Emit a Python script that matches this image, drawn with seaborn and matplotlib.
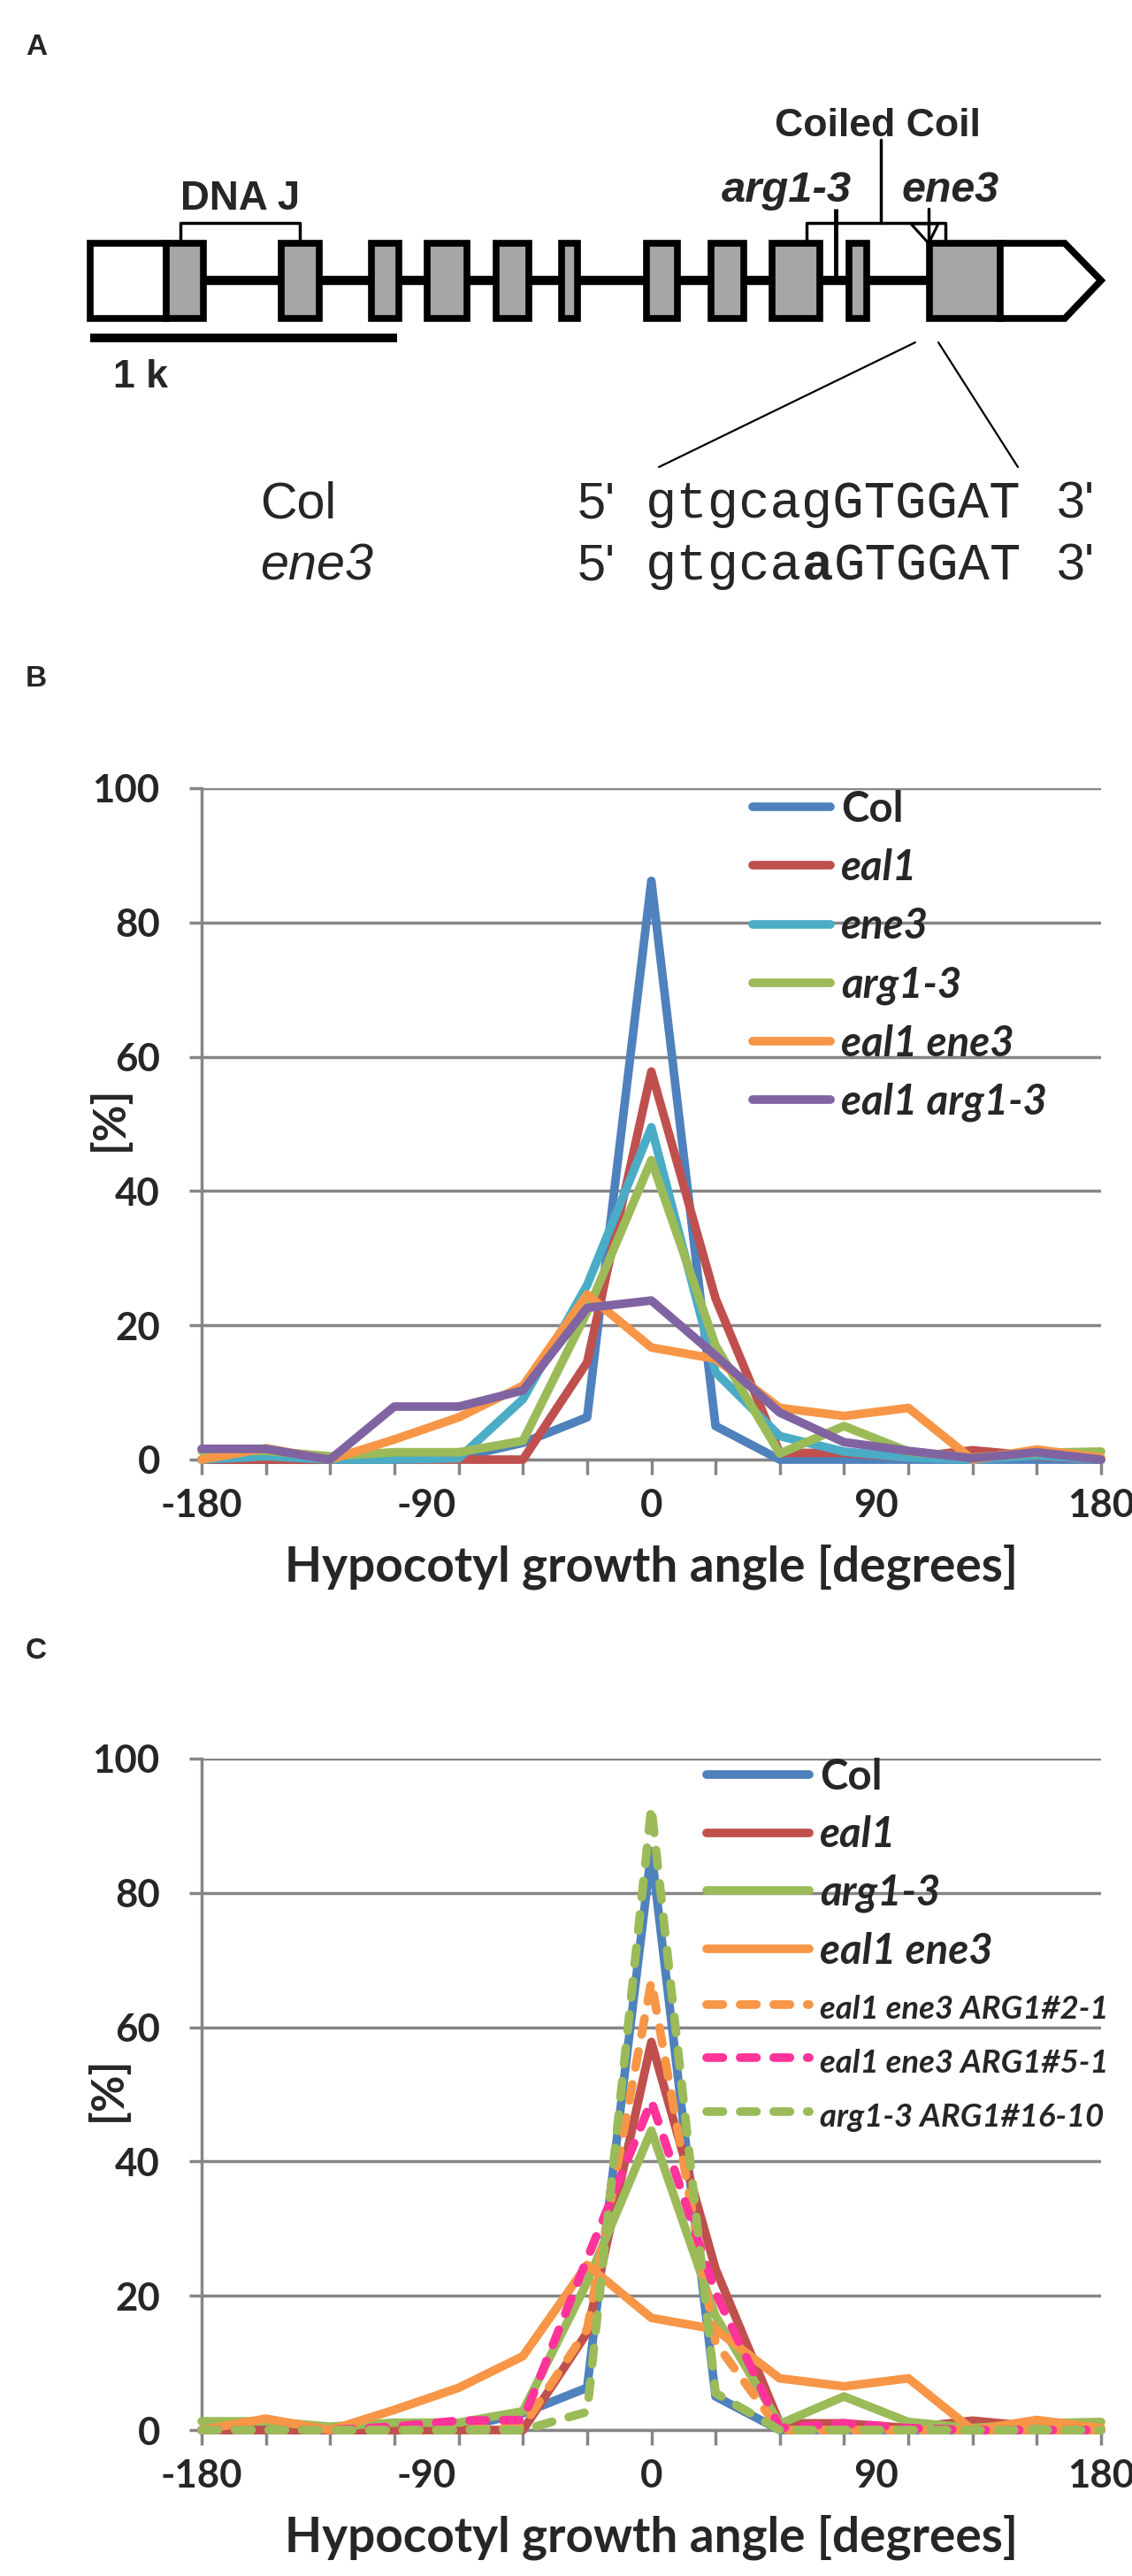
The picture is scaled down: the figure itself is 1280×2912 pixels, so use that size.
import matplotlib
matplotlib.use("Agg")
import matplotlib.pyplot as plt
import pandas as pd
import seaborn as sns
from matplotlib.patches import Rectangle, Polygon

# ---------------- data ----------------
angles = [-180, -154.3, -128.6, -102.9, -77.1, -51.4, -25.7, 0,
          25.7, 51.4, 77.1, 102.9, 128.6, 154.3, 180]
xtick_values = [-180, -90, 0, 90, 180]
xtick_labels = ["-180", "-90", "0", "90", "180"]
ytick_values = [0, 20, 40, 60, 80, 100]

col_pct      = [0, 0, 0, 0, 0.3, 2.5, 6.3, 86.2, 5.0, 0, 0, 0, 0, 0, 0]
eal1_pct     = [0, 0, 0, 0, 0, 0, 14.5, 57.8, 24.0, 1.0, 1.0, 0.3, 1.4, 0.5, 0]
ene3_pct     = [0, 0.5, 0, 0, 0.2, 9.0, 26.0, 49.5, 13.0, 3.5, 1.2, 0.3, 0, 0.6, 0]
arg13_pct    = [1.3, 1.3, 0.5, 1.1, 1.1, 2.8, 22.0, 44.6, 17.0, 0.9, 5.0, 1.2, 0.3, 1.0, 1.2]
eal1ene3_pct = [0, 1.7, 0, 3.0, 6.3, 11.0, 24.6, 16.7, 15.0, 7.7, 6.5, 7.7, 0, 1.5, 0.3]
eal1arg_pct  = [1.6, 1.6, 0, 7.9, 7.9, 10.3, 22.6, 23.7, 15.5, 7.0, 2.6, 1.3, 0.2, 1.1, 0]
arg1_21_pct  = [0, 0, 0, 0, 0, 0.5, 15.0, 66.8, 13.0, 0, 0, 0, 0, 0, 0]
arg1_51_pct  = [0, 0, 0, 0.5, 1.4, 1.5, 25.5, 49.0, 20.5, 0.3, 1.0, 0.3, 0, 0, 0]
arg1_1610_pct = [0, 0, 0, 0, 0, 0, 2.7, 92.8, 5.5, 0, 0, 0, 0, 0, 0]

names_b = ["Col", "eal1", "ene3", "arg1-3", "eal1 ene3", "eal1 arg1-3"]
series_b = [col_pct, eal1_pct, ene3_pct, arg13_pct, eal1ene3_pct, eal1arg_pct]
names_c = ["Col", "eal1", "arg1-3", "eal1 ene3", "eal1 ene3 ARG1#2-1",
           "eal1 ene3 ARG1#5-1", "arg1-3 ARG1#16-10"]
series_c = [col_pct, eal1_pct, arg13_pct, eal1ene3_pct, arg1_21_pct, arg1_51_pct, arg1_1610_pct]
dashed_c = [False, False, False, False, True, True, True]

# gene model (drawing units)
utr5 = [102, 188]
exon_starts = [188, 318, 420, 483, 561, 635, 731, 804, 873, 960, 1051]
exon_ends = [230, 361, 451, 528, 598, 653, 766, 841, 927, 980, 1131]
utr3 = [1131, 1204, 1245]
seq_col = "gtgcagGTGGAT"
seq_ene3 = ["gtgca", "a", "GTGGAT"]

BLUE, RED, AQUA, GREEN = "#4F81BD", "#C0504D", "#4BACC6", "#9BBB59"
ORANGE, PURPLE, PINK = "#F79646", "#8064A2", "#FF3399"
colors_b = [BLUE, RED, AQUA, GREEN, ORANGE, PURPLE]
colors_c = [BLUE, RED, GREEN, ORANGE, ORANGE, PINK, GREEN]
GRID = "#868686"
LW = 7.0
DASH = (1.9, 2.0)

# ---------------- setup ----------------
sns.set_style("white")
FAM = ["Lato", "DejaVu Sans"]
ARIAL = ["Liberation Sans", "DejaVu Sans"]
MONO = ["Liberation Mono", "DejaVu Sans Mono"]
plt.rcParams["font.family"] = FAM
plt.rcParams["font.weight"] = "bold"

W, H = 1280, 2912
fig = plt.figure(figsize=(12.8, 29.12), dpi=100)
renderer = fig.canvas.get_renderer()


def fit(text, target, family=FAM, weight="bold", style="normal", base=30.0):
    t = fig.text(0, 0, text, fontsize=base, family=family, fontweight=weight, fontstyle=style)
    w = t.get_window_extent(renderer).width
    t.remove()
    return base * target / w


def ftext(x, y, s, **kw):
    return fig.text(x / W, 1 - y / H, s, **kw)


def fbox(l, t, r, b):
    return [l / W, 1 - b / H, (r - l) / W, (b - t) / H]


TS = fit("100", 76)
XL = fit("Hypocotyl growth angle [degrees]", 829)
PS = fit("[%]", 73)
LEG = fit("eal1 arg1-3", 233, style="italic")
LEG_S = fit("eal1 ene3 ARG1#2-1", 327, style="italic")

# ---------------- panel A ----------------
axA = fig.add_axes([0, 1 - 760 / H, 1, 760 / H])
axA.set_xlim(0, W)
axA.set_ylim(760, 0)
axA.axis("off")

BOX_LW = 5.5
axA.plot([exon_ends[0], exon_starts[-1]], [317, 317], color="black", lw=7.5,
         solid_capstyle="butt", zorder=1)
axA.add_patch(Rectangle((utr5[0], 275), utr5[1] - utr5[0], 85, fc="white", ec="black",
                        lw=BOX_LW, joinstyle="miter", zorder=2))
for s, e in zip(exon_starts, exon_ends):
    axA.add_patch(Rectangle((s, 275), e - s, 85, fc="#A6A6A6", ec="black", lw=BOX_LW,
                            joinstyle="miter", zorder=2))
axA.add_patch(Polygon([(utr3[0], 275), (utr3[1], 275), (utr3[2], 317), (utr3[1], 360),
                       (utr3[0], 360)], closed=True, fc="white", ec="black", lw=BOX_LW,
                      joinstyle="miter", zorder=2))
# scale bar
axA.plot([102, 449], [382, 382], color="black", lw=7, solid_capstyle="butt")
# brackets
axA.plot([204, 204, 339, 339], [275, 252, 252, 275], color="black", lw=2.5)
axA.plot([912, 912, 1069, 1069], [275, 252, 252, 275], color="black", lw=2.5)
axA.plot([996, 996], [158, 252], color="black", lw=2.5)
axA.plot([945, 945], [236, 312], color="black", lw=3.5, solid_capstyle="butt")
axA.plot([1050, 1050], [236, 275], color="black", lw=2.5)
axA.add_patch(Polygon([(1030, 253), (1061, 253), (1050, 275)], closed=True, fill=False,
                      ec="black", lw=2.2, zorder=3))
axA.plot([1035, 745], [387, 528], color="black", lw=1.6)
axA.plot([1061, 1151], [387, 528], color="black", lw=1.6)

sz = fit("Coiled Coil", 233, family=ARIAL)
axA.text(992, 142, "Coiled Coil", family=ARIAL, fontweight="bold", fontsize=sz,
         ha="center", va="center")
axA.text(272, 225, "DNA J", family=ARIAL, fontweight="bold",
         fontsize=fit("DNA J", 135, family=ARIAL), ha="center", va="center")
axA.text(889, 216, "arg1-3", family=ARIAL, fontweight="bold", fontstyle="italic",
         fontsize=fit("arg1-3", 147, family=ARIAL, style="italic"), ha="center", va="center")
axA.text(1075, 216, "ene3", family=ARIAL, fontweight="bold", fontstyle="italic",
         fontsize=fit("ene3", 110, family=ARIAL, style="italic"), ha="center", va="center")
axA.text(159, 427, "1 k", family=ARIAL, fontweight="bold",
         fontsize=fit("1 k", 62, family=ARIAL), ha="center", va="center")

RS = fit("Col", 86, family=ARIAL, weight="normal")
axA.text(294, 585, "Col", family=ARIAL, fontweight="normal", fontsize=RS, ha="left", va="baseline")
axA.text(294, 655, "ene3", family=ARIAL, fontweight="normal", fontstyle="italic", fontsize=RS,
         ha="left", va="baseline")
for yb in (585, 655):
    axA.text(653, yb, "5'", family=ARIAL, fontweight="normal", fontsize=RS, ha="left", va="baseline")
    axA.text(1195, yb, "3'", family=ARIAL, fontweight="normal", fontsize=RS, ha="left", va="baseline")
MS = fit(seq_col, 425, family=MONO, weight="normal")
cw = 425 / len(seq_col)
axA.text(730, 585, seq_col, family=MONO, fontweight="normal", fontsize=MS, ha="left", va="baseline")
pos = 0
for i, part in enumerate(seq_ene3):
    axA.text(730 + pos * cw, 655, part, family=MONO, fontsize=MS, ha="left", va="baseline",
             fontweight="bold" if i == 1 else "normal")
    pos += len(part)

ftext(41, 53, "A", family=ARIAL, fontweight="bold", fontsize=24, ha="center", va="center")
ftext(41, 768, "B", family=ARIAL, fontweight="bold", fontsize=24, ha="center", va="center")
ftext(41, 1866, "C", family=ARIAL, fontweight="bold", fontsize=24, ha="center", va="center")


# ---------------- panels B and C ----------------
def panel(box, names, series, colors, dashed):
    ax = fig.add_axes(fbox(*box))
    rows = []
    for n, s in zip(names, series):
        for a, v in zip(angles, s):
            rows.append((n, a, v))
    df = pd.DataFrame(rows, columns=["line", "angle", "pct"])
    dmap = {n: (DASH if d else "") for n, d in zip(names, dashed)}
    sns.lineplot(data=df, x="angle", y="pct", hue="line", hue_order=names,
                 palette=dict(zip(names, colors)), style="line", style_order=names,
                 dashes=dmap, linewidth=LW, legend=False, ax=ax, sort=False,
                 estimator=None, errorbar=None)
    for ln in ax.get_lines():
        ln.set_linewidth(LW)
        ln.set_solid_capstyle("round")
        ln.set_dash_capstyle("round")
        ln.set_solid_joinstyle("round")
        ln.set_dash_joinstyle("round")
        ln.set_clip_on(False)
        ln.set_zorder(3)
    ax.set_xlim(-180, 180)
    ax.set_ylim(0, 100)
    ax.set_xlabel("")
    ax.set_ylabel("")
    ax.set_axisbelow(True)
    ax.set_yticks(ytick_values)
    ax.set_yticklabels([str(v) for v in ytick_values], fontweight="bold")
    ax.yaxis.grid(True, color=GRID, linewidth=2.5)
    ax.xaxis.grid(False)
    ax.xaxis.remove_overlapping_locs = False
    ax.set_xticks(angles)
    ax.set_xticklabels([])
    ax.set_xticks(xtick_values, minor=True)
    ax.set_xticklabels(xtick_labels, minor=True, fontweight="bold")
    ax.tick_params(axis="x", which="major", length=12, width=2.5, color=GRID, direction="out",
                   bottom=True)
    ax.tick_params(axis="x", which="minor", length=0, pad=23, labelsize=TS, bottom=True)
    ax.tick_params(axis="y", length=10, width=2.5, color=GRID, direction="out", pad=24,
                   labelsize=TS, left=True)
    for s in ("top", "right"):
        ax.spines[s].set_visible(False)
    for s in ("left", "bottom"):
        ax.spines[s].set_color(GRID)
        ax.spines[s].set_linewidth(2.5)
    return ax


def build_legend(ax, names, hl, htp, ls, anchor, small_idx):
    leg = ax.legend(handles=ax.get_lines()[:len(names)], labels=names, loc="upper left",
                    bbox_to_anchor=anchor, bbox_transform=fig.transFigure, frameon=False,
                    prop={"family": FAM, "weight": "bold", "size": LEG}, handlelength=hl,
                    handletextpad=htp, labelspacing=ls, borderpad=0, borderaxespad=0)
    for h in leg.legend_handles:
        h.set_linewidth(LW)
        h.set_solid_capstyle("round")
        h.set_dash_capstyle("round")
    for i, t in enumerate(leg.get_texts()):
        if i > 0:
            t.set_fontstyle("italic")
        if i in small_idx:
            t.set_fontsize(LEG_S)
    return leg


def place_legend(ax, names, seg_px, text_left, cy0, spacing, small_idx=()):
    fpx = LEG * 100 / 72
    hl = (seg_px - LW * 100 / 72) / fpx
    htp = 0.25
    ls = 0.4
    axx, axy = text_left - seg_px - 10, cy0 - 30
    for _ in range(3):
        leg = build_legend(ax, names, hl, htp, ls, (axx / W, 1 - axy / H), small_idx)
        fig.canvas.draw()
        bbs = [t.get_window_extent(renderer) for t in leg.get_texts()]
        cys = [H - (b.y0 + b.y1) / 2 for b in bbs]
        sp = (cys[-1] - cys[0]) / (len(cys) - 1)
        ls += (spacing - sp) / fpx
        axx += text_left - bbs[0].x0
        axy += (cy0 + 4) - cys[0]
    return build_legend(ax, names, hl, htp, ls, (axx / W, 1 - axy / H), small_idx)


axB = panel((228, 891, 1245, 1650), names_b, series_b, colors_b, [False] * 6)
axC = panel((228, 1988, 1245, 2747), names_c, series_c, colors_c, dashed_c)

place_legend(axB, names_b, 98, 951, 911, 66.2)
place_legend(axC, names_c, 126, 927, 2005, 64.0, small_idx=(4, 5, 6))

for yc, yl, yp in ((1771, 1264, 124), (2868, 2361, 122)):
    ftext(736, yc, "Hypocotyl growth angle [degrees]", fontsize=XL, fontweight="bold",
          ha="center", va="center")
    ftext(yp, yl, "[%]", fontsize=PS, fontweight="bold", rotation=90, ha="center", va="center")

fig.savefig("out.png", dpi=100)
